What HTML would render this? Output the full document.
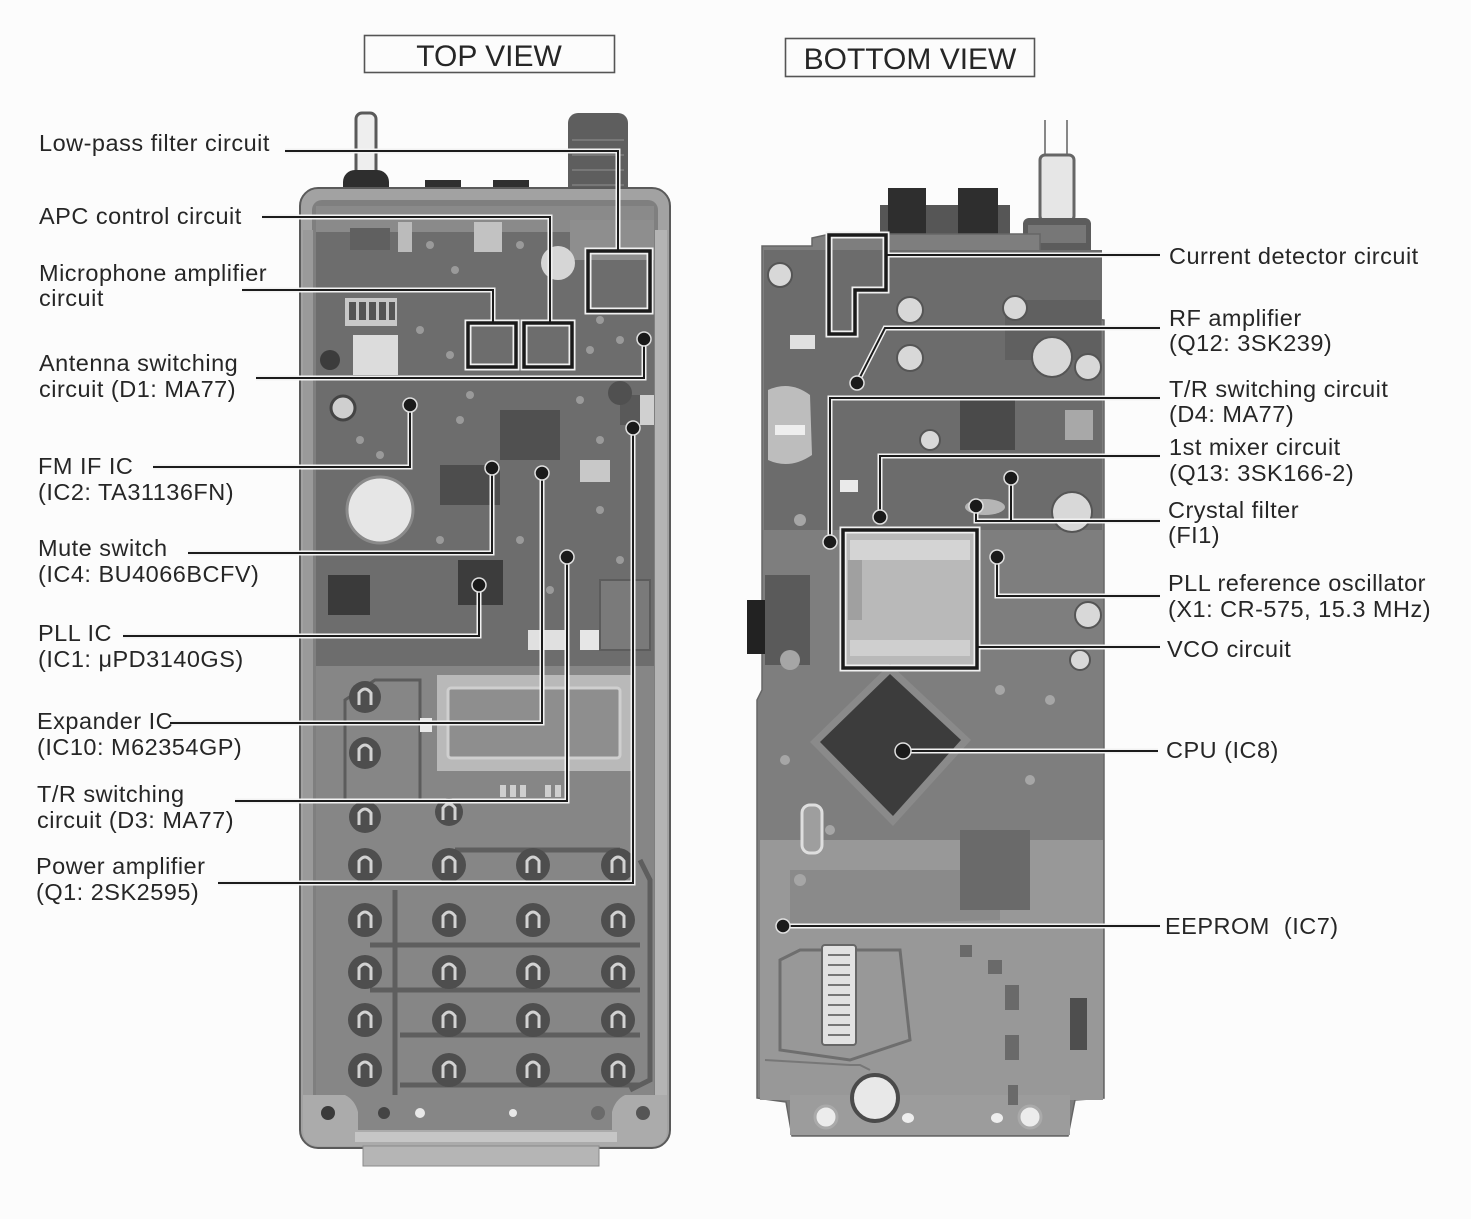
<!DOCTYPE html>
<html><head><meta charset="utf-8"><style>
html,body{margin:0;padding:0;background:#fcfcfc;}
svg{display:block;}
text{font-family:"Liberation Sans",Arial,sans-serif;fill:#262626;}
.lb{font-size:23.5px;letter-spacing:0.5px;}
.tt{font-size:30px;}
.halo{stroke:#f2f2f2;stroke-width:5;fill:none;}
.ln{stroke:#1c1c1c;stroke-width:2;fill:none;}
.dot{fill:#1a1a1a;stroke:#e0e0e0;stroke-width:1.5;}
</style></head><body>
<svg width="1471" height="1219" viewBox="0 0 1471 1219" xmlns="http://www.w3.org/2000/svg">
<rect width="1471" height="1219" fill="#fcfcfc"/>

<!-- TITLES -->
<rect x="364.5" y="35.5" width="250" height="37" fill="none" stroke="#555" stroke-width="1.6"/>
<text class="tt" x="489" y="66" text-anchor="middle">TOP VIEW</text>
<rect x="785.5" y="38.5" width="249" height="38" fill="none" stroke="#555" stroke-width="1.6"/>
<text class="tt" x="910" y="69" text-anchor="middle">BOTTOM VIEW</text>

<!-- ================= LEFT BOARD ================= -->
<!-- antenna rod & knob -->
<rect x="356" y="113" width="20" height="66" rx="6" fill="#eeeeee" stroke="#5a5a5a" stroke-width="3"/>
<rect x="343" y="170" width="46" height="30" rx="12" fill="#2e2e2e"/>
<!-- connector top right -->
<rect x="568" y="113" width="60" height="112" rx="10" fill="#5e5e5e"/>
<g stroke="#777" stroke-width="2">
<line x1="572" y1="140" x2="624" y2="140"/><line x1="572" y1="155" x2="624" y2="155"/>
<line x1="572" y1="170" x2="624" y2="170"/><line x1="572" y1="185" x2="624" y2="185"/>
<line x1="572" y1="200" x2="624" y2="200"/></g>
<rect x="580" y="205" width="36" height="30" fill="#4a4a4a"/>
<!-- top tabs -->
<rect x="425" y="180" width="36" height="20" fill="#2f2f2f"/>
<rect x="493" y="180" width="36" height="20" fill="#2f2f2f"/>
<!-- frame -->
<rect x="300" y="188" width="370" height="960" rx="18" fill="#a2a2a2" stroke="#5a5a5a" stroke-width="2"/>
<rect x="312" y="200" width="346" height="935" rx="10" fill="#7f7f7f"/>
<rect x="316" y="206" width="338" height="460" fill="#6d6d6d"/>
<rect x="316" y="206" width="338" height="26" fill="#8a8a8a"/>
<rect x="570" y="220" width="84" height="40" fill="#8e8e8e"/>
<!-- right metal edge lighter -->
<rect x="655" y="230" width="12" height="880" fill="#b4b4b4"/>
<rect x="303" y="230" width="10" height="880" fill="#9a9a9a"/>
<!-- upper components -->
<rect x="345" y="298" width="52" height="28" fill="#c8c8c8"/>
<g fill="#555"><rect x="349" y="302" width="7" height="18"/><rect x="359" y="302" width="7" height="18"/><rect x="369" y="302" width="7" height="18"/><rect x="379" y="302" width="7" height="18"/><rect x="389" y="302" width="6" height="18"/></g>
<rect x="353" y="335" width="45" height="40" fill="#dcdcdc"/>
<circle cx="330" cy="360" r="10" fill="#3c3c3c"/>
<circle cx="343" cy="408" r="12" fill="#cfcfcf" stroke="#444" stroke-width="3"/>
<rect x="474" y="222" width="28" height="30" fill="#c2c2c2"/>
<rect x="398" y="222" width="14" height="30" fill="#bbbbbb"/>
<circle cx="558" cy="263" r="17" fill="#d6d6d6"/>
<rect x="350" y="228" width="40" height="22" fill="#606060"/>
<rect x="500" y="410" width="60" height="50" fill="#505050"/>
<rect x="440" y="465" width="60" height="40" fill="#4d4d4d"/>
<rect x="580" y="460" width="30" height="22" fill="#c8c8c8"/>
<rect x="620" y="395" width="30" height="30" fill="#595959"/>
<circle cx="620" cy="393" r="12" fill="#505050"/>
<rect x="640" y="395" width="14" height="30" fill="#d0d0d0"/>
<g fill="#9a9a9a">
<circle cx="430" cy="245" r="4"/><circle cx="455" cy="270" r="4"/><circle cx="520" cy="245" r="4"/><circle cx="600" cy="320" r="4"/>
<circle cx="420" cy="330" r="4"/><circle cx="450" cy="355" r="4"/><circle cx="590" cy="350" r="4"/><circle cx="620" cy="340" r="4"/>
<circle cx="460" cy="420" r="4"/><circle cx="470" cy="395" r="4"/><circle cx="580" cy="400" r="4"/><circle cx="600" cy="440" r="4"/>
<circle cx="360" cy="440" r="4"/><circle cx="380" cy="455" r="4"/><circle cx="440" cy="540" r="4"/><circle cx="520" cy="540" r="4"/>
<circle cx="600" cy="510" r="4"/><circle cx="620" cy="560" r="4"/><circle cx="640" cy="600" r="4"/><circle cx="550" cy="590" r="4"/>
</g>
<!-- speaker -->
<circle cx="380" cy="510" r="33" fill="#e6e6e6" stroke="#8a8a8a" stroke-width="3"/>
<!-- ICs mid -->
<rect x="328" y="575" width="42" height="40" fill="#3a3a3a"/>
<rect x="458" y="560" width="45" height="45" fill="#3c3c3c"/>
<rect x="528" y="630" width="40" height="20" fill="#e0e0e0"/>
<rect x="580" y="630" width="30" height="20" fill="#e6e6e6"/>
<rect x="600" y="580" width="50" height="70" fill="#7a7a7a" stroke="#5c5c5c" stroke-width="2"/>
<!-- lower lighter area -->
<rect x="316" y="666" width="338" height="466" fill="#868686"/>
<!-- pcb outline trace on left -->
<path d="M345 700 L375 680 L420 680 L420 800 L345 800 Z" fill="none" stroke="#5c5c5c" stroke-width="3"/>
<!-- LCD window -->
<rect x="437" y="675" width="194" height="96" fill="#b9b9b9"/>
<rect x="448" y="688" width="172" height="70" rx="3" fill="#8e8e8e" stroke="#cfcfcf" stroke-width="3"/>
<rect x="420" y="718" width="12" height="14" fill="#e8e8e8"/>
<g fill="#cfcfcf"><rect x="500" y="785" width="6" height="12"/><rect x="510" y="785" width="6" height="12"/><rect x="520" y="785" width="6" height="12"/><rect x="545" y="785" width="6" height="12"/><rect x="555" y="785" width="6" height="12"/></g>
<!-- keypad traces -->
<g stroke="#5e5e5e" stroke-width="5" fill="none">
<line x1="395" y1="890" x2="395" y2="1095"/>
<line x1="370" y1="945" x2="640" y2="945"/>
<line x1="370" y1="990" x2="640" y2="990"/>
<line x1="400" y1="1035" x2="640" y2="1035"/>
<line x1="400" y1="1085" x2="640" y2="1085"/>
<path d="M640 860 L650 880 L650 1080 L630 1090"/>
<line x1="455" y1="850" x2="620" y2="850"/>
</g>
<!-- keypad buttons -->
<g fill="#4e4e4e">
<circle cx="365" cy="697" r="16"/><circle cx="365" cy="753" r="16"/><circle cx="365" cy="817" r="16"/>
<circle cx="449" cy="812" r="14"/>
<circle cx="365" cy="865" r="17"/><circle cx="449" cy="865" r="17"/><circle cx="533" cy="865" r="17"/><circle cx="618" cy="865" r="17"/>
<circle cx="365" cy="920" r="17"/><circle cx="449" cy="920" r="17"/><circle cx="533" cy="920" r="17"/><circle cx="618" cy="920" r="17"/>
<circle cx="365" cy="972" r="17"/><circle cx="449" cy="972" r="17"/><circle cx="533" cy="972" r="17"/><circle cx="618" cy="972" r="17"/>
<circle cx="365" cy="1020" r="17"/><circle cx="449" cy="1020" r="17"/><circle cx="533" cy="1020" r="17"/><circle cx="618" cy="1020" r="17"/>
<circle cx="365" cy="1070" r="17"/><circle cx="449" cy="1070" r="17"/><circle cx="533" cy="1070" r="17"/><circle cx="618" cy="1070" r="17"/>
</g>
<g fill="none" stroke="#d2d2d2" stroke-width="3">
<path d="M359 705 v-12 q6 -8 12 0 v12"/><path d="M359 761 v-12 q6 -8 12 0 v12"/><path d="M359 825 v-12 q6 -8 12 0 v12"/>
<path d="M443 820 v-12 q6 -8 12 0 v12"/>
<path d="M359 873 v-12 q6 -8 12 0 v12"/><path d="M443 873 v-12 q6 -8 12 0 v12"/><path d="M527 873 v-12 q6 -8 12 0 v12"/><path d="M612 873 v-12 q6 -8 12 0 v12"/>
<path d="M359 928 v-12 q6 -8 12 0 v12"/><path d="M443 928 v-12 q6 -8 12 0 v12"/><path d="M527 928 v-12 q6 -8 12 0 v12"/><path d="M612 928 v-12 q6 -8 12 0 v12"/>
<path d="M359 980 v-12 q6 -8 12 0 v12"/><path d="M443 980 v-12 q6 -8 12 0 v12"/><path d="M527 980 v-12 q6 -8 12 0 v12"/><path d="M612 980 v-12 q6 -8 12 0 v12"/>
<path d="M359 1028 v-12 q6 -8 12 0 v12"/><path d="M443 1028 v-12 q6 -8 12 0 v12"/><path d="M527 1028 v-12 q6 -8 12 0 v12"/><path d="M612 1028 v-12 q6 -8 12 0 v12"/>
<path d="M359 1078 v-12 q6 -8 12 0 v12"/><path d="M443 1078 v-12 q6 -8 12 0 v12"/><path d="M527 1078 v-12 q6 -8 12 0 v12"/><path d="M612 1078 v-12 q6 -8 12 0 v12"/>
</g>
<!-- bottom bracket -->
<path d="M303 1095 L345 1095 Q355 1100 358 1112 L358 1130 L612 1130 L612 1112 Q615 1100 625 1095 L667 1095 L667 1130 Q667 1146 650 1146 L320 1146 Q303 1146 303 1130 Z" fill="#ababab"/>
<rect x="355" y="1132" width="262" height="10" fill="#c6c6c6"/>
<circle cx="328" cy="1113" r="7" fill="#3a3a3a"/>
<circle cx="384" cy="1113" r="6" fill="#444"/>
<circle cx="420" cy="1113" r="5" fill="#e8e8e8"/>
<circle cx="513" cy="1113" r="4" fill="#e8e8e8"/>
<circle cx="598" cy="1113" r="7" fill="#6a6a6a"/>
<circle cx="643" cy="1113" r="7" fill="#555"/>
<rect x="363" y="1146" width="236" height="20" fill="#b5b5b5" stroke="#8a8a8a" stroke-width="1"/>

<!-- ================= RIGHT BOARD ================= -->
<!-- antenna connector rod -->
<line x1="1045" y1="120" x2="1045" y2="160" stroke="#888" stroke-width="2"/>
<line x1="1067" y1="120" x2="1067" y2="160" stroke="#888" stroke-width="2"/>
<rect x="1040" y="155" width="34" height="66" rx="5" fill="#e6e6e6" stroke="#666" stroke-width="3"/>
<rect x="1023" y="218" width="68" height="100" rx="6" fill="#5c5c5c"/>
<rect x="1028" y="225" width="58" height="18" fill="#777"/>
<!-- jacks -->
<rect x="880" y="205" width="130" height="90" fill="#565656"/>
<rect x="888" y="188" width="38" height="95" fill="#2e2e2e"/>
<rect x="958" y="188" width="40" height="95" fill="#2e2e2e"/>
<rect x="965" y="262" width="28" height="16" fill="#eeeeee"/>
<!-- board -->
<path d="M762 246 L812 246 L812 238 L830 234 L1040 234 L1040 300 L1088 300 L1088 318 L1104 320 L1104 1098 L1075 1100 L1068 1136 L792 1136 L786 1102 L757 1098 L757 700 L762 690 Z" fill="#7e7e7e" stroke="#666" stroke-width="1.5"/>
<rect x="764" y="250" width="338" height="280" fill="#6c6c6c"/>
<rect x="1005" y="300" width="96" height="60" fill="#606060"/>
<rect x="760" y="840" width="343" height="260" fill="#989898"/>
<rect x="790" y="1095" width="280" height="40" fill="#9c9c9c"/>
<!-- traces lower -->
<path d="M790 870 L1000 870 L1000 920 L790 925 Z" fill="#8a8a8a"/>
<path d="M780 960 L800 950 L900 950 L910 1040 L850 1060 L780 1050 Z" fill="none" stroke="#6e6e6e" stroke-width="3"/>
<path d="M765 1060 L850 1065 L860 1065 L870 1070 L870 1070" fill="none" stroke="#777" stroke-width="2"/>
<rect x="822" y="945" width="34" height="100" rx="3" fill="#e2e2e2" stroke="#666" stroke-width="2"/>
<g stroke="#777" stroke-width="2">
<line x1="828" y1="955" x2="850" y2="955"/><line x1="828" y1="965" x2="850" y2="965"/><line x1="828" y1="975" x2="850" y2="975"/>
<line x1="828" y1="985" x2="850" y2="985"/><line x1="828" y1="995" x2="850" y2="995"/><line x1="828" y1="1005" x2="850" y2="1005"/>
<line x1="828" y1="1015" x2="850" y2="1015"/><line x1="828" y1="1025" x2="850" y2="1025"/><line x1="828" y1="1035" x2="850" y2="1035"/></g>
<rect x="1070" y="998" width="17" height="52" fill="#4e4e4e"/>
<g fill="#6a6a6a">
<rect x="1005" y="985" width="14" height="25"/><rect x="1005" y="1035" width="14" height="25"/><rect x="1008" y="1085" width="10" height="20"/>
<rect x="988" y="960" width="14" height="14"/><rect x="960" y="945" width="12" height="12"/>
</g>
<rect x="960" y="830" width="70" height="80" fill="#6a6a6a"/>
<!-- bottom cap & holes -->
<circle cx="875" cy="1098" r="23" fill="#e8e8e8" stroke="#4a4a4a" stroke-width="4"/>
<circle cx="826" cy="1117" r="11" fill="#ececec" stroke="#aaa" stroke-width="3"/>
<circle cx="1030" cy="1117" r="11" fill="#ececec" stroke="#aaa" stroke-width="3"/>
<ellipse cx="908" cy="1118" rx="6" ry="5" fill="#eee"/>
<ellipse cx="997" cy="1118" rx="6" ry="5" fill="#eee"/>
<!-- left silver part -->
<path d="M768 390 Q790 380 810 395 L812 455 Q790 470 768 460 Z" fill="#bdbdbd"/>
<rect x="775" y="425" width="30" height="10" fill="#eeeeee"/>
<!-- left black connector -->
<rect x="747" y="600" width="24" height="54" fill="#222"/>
<rect x="765" y="575" width="45" height="90" fill="#5a5a5a"/>
<!-- caps upper -->
<g fill="#d8d8d8" stroke="#555" stroke-width="2">
<circle cx="910" cy="310" r="13"/><circle cx="910" cy="358" r="13"/><circle cx="1015" cy="308" r="12"/>
<circle cx="1052" cy="357" r="20"/><circle cx="1088" cy="367" r="13"/><circle cx="930" cy="440" r="10"/>
<circle cx="1072" cy="512" r="20"/><circle cx="1088" cy="615" r="13"/><circle cx="1080" cy="660" r="10"/>
<circle cx="780" cy="275" r="12"/><circle cx="798" cy="1000" r="0"/>
</g>
<rect x="960" y="400" width="55" height="50" fill="#4a4a4a"/>
<rect x="1065" y="410" width="28" height="30" fill="#a8a8a8"/>
<rect x="840" y="480" width="18" height="12" fill="#eaeaea"/>
<rect x="790" y="335" width="25" height="14" fill="#e0e0e0"/>
<ellipse cx="985" cy="507" rx="20" ry="8" fill="#b5b5b5"/>
<g fill="#a6a6a6">
<circle cx="800" cy="520" r="6"/><circle cx="790" cy="660" r="10"/><circle cx="785" cy="760" r="5"/><circle cx="1030" cy="780" r="5"/>
<circle cx="800" cy="880" r="6"/><circle cx="830" cy="830" r="5"/><circle cx="1000" cy="690" r="5"/><circle cx="1050" cy="700" r="5"/>
</g>
<!-- VCO shield -->
<rect x="843" y="530" width="134" height="138" fill="#b9b9b9"/>
<rect x="850" y="540" width="120" height="20" fill="#d4d4d4"/>
<rect x="850" y="640" width="120" height="16" fill="#cfcfcf"/>
<rect x="848" y="560" width="14" height="60" fill="#a0a0a0"/>
<!-- CPU -->
<polygon points="890,664 971,740 893,826 810,742" fill="#8a8a8a"/>
<polygon points="890,674 961,740 893,816 820,742" fill="#3c3c3c"/>
<!-- crystal -->
<rect x="802" y="805" width="20" height="48" rx="8" fill="#9e9e9e" stroke="#dedede" stroke-width="3"/>

<!-- ================= CONNECTORS (LEFT) ================= -->
<g class="halo">
<polyline points="285,151 618,151 618,250"/>
<polyline points="262,217 550,217 550,322"/>
<polyline points="242,290 493,290 493,322"/>
<polyline points="256,378 644,378 644,339"/>
<polyline points="153,467 410,467 410,405"/>
<polyline points="188,553 492,553 492,468"/>
<polyline points="123,636 479,636 479,585"/>
<polyline points="170,723 542,723 542,473"/>
<polyline points="235,801 567,801 567,557"/>
<polyline points="218,883 633,883 633,428"/>
</g>
<g fill="none" stroke="#f0f0f0" stroke-width="7">
<rect x="588" y="251" width="62" height="60"/>
<rect x="524" y="323" width="48" height="44"/>
<rect x="468" y="323" width="48" height="44"/>
</g>
<g fill="none" stroke="#1a1a1a" stroke-width="3.5">
<rect x="588" y="251" width="62" height="60"/>
<rect x="524" y="323" width="48" height="44"/>
<rect x="468" y="323" width="48" height="44"/>
</g>
<g class="ln">
<polyline points="285,151 618,151 618,250"/>
<polyline points="262,217 550,217 550,322"/>
<polyline points="242,290 493,290 493,322"/>
<polyline points="256,378 644,378 644,339"/>
<polyline points="153,467 410,467 410,405"/>
<polyline points="188,553 492,553 492,468"/>
<polyline points="123,636 479,636 479,585"/>
<polyline points="170,723 542,723 542,473"/>
<polyline points="235,801 567,801 567,557"/>
<polyline points="218,883 633,883 633,428"/>
</g>
<g class="dot">
<circle cx="644" cy="339" r="7"/>
<circle cx="410" cy="405" r="7"/>
<circle cx="492" cy="468" r="7"/>
<circle cx="479" cy="585" r="7"/>
<circle cx="542" cy="473" r="7"/>
<circle cx="567" cy="557" r="7"/>
<circle cx="633" cy="428" r="7"/>
</g>

<!-- ================= CONNECTORS (RIGHT) ================= -->
<g class="halo">
<polyline points="1160,255 887,255"/>
<polyline points="1160,328 885,328 857,383"/>
<polyline points="1160,398 830,398 830,542"/>
<polyline points="1160,456 880,456 880,517"/>
<polyline points="1160,521 976,521 976,506"/>
<polyline points="1011,521 1011,478"/>
<polyline points="1160,596 997,596 997,557"/>
<polyline points="1160,647 978,647"/>
<polyline points="1158,751 903,751"/>
<polyline points="1160,926 783,926"/>
</g>
<path d="M829 235 L886 235 L886 290 L855 290 L855 334 L829 334 Z" fill="none" stroke="#f0f0f0" stroke-width="7"/>
<path d="M829 235 L886 235 L886 290 L855 290 L855 334 L829 334 Z" fill="none" stroke="#1a1a1a" stroke-width="3.5"/>
<rect x="843" y="530" width="134" height="138" fill="none" stroke="#f0f0f0" stroke-width="7"/>
<rect x="843" y="530" width="134" height="138" fill="none" stroke="#1a1a1a" stroke-width="3.5"/>
<g class="ln">
<polyline points="1160,255 887,255"/>
<polyline points="1160,328 885,328 857,383"/>
<polyline points="1160,398 830,398 830,542"/>
<polyline points="1160,456 880,456 880,517"/>
<polyline points="1160,521 976,521 976,506"/>
<polyline points="1011,521 1011,478"/>
<polyline points="1160,596 997,596 997,557"/>
<polyline points="1160,647 978,647"/>
<polyline points="1158,751 903,751"/>
<polyline points="1160,926 783,926"/>
</g>
<g class="dot">
<circle cx="857" cy="383" r="7"/>
<circle cx="830" cy="542" r="7"/>
<circle cx="880" cy="517" r="7"/>
<circle cx="976" cy="506" r="7"/>
<circle cx="1011" cy="478" r="7"/>
<circle cx="997" cy="557" r="7"/>
<circle cx="903" cy="751" r="8"/>
<circle cx="783" cy="926" r="7"/>
</g>

<!-- ================= LABELS LEFT ================= -->
<text class="lb" x="39" y="151">Low-pass filter circuit</text>
<text class="lb" x="39" y="224">APC control circuit</text>
<text class="lb" x="39" y="281">Microphone amplifier</text>
<text class="lb" x="39" y="306">circuit</text>
<text class="lb" x="39" y="371">Antenna switching</text>
<text class="lb" x="39" y="397">circuit (D1: MA77)</text>
<text class="lb" x="38" y="474">FM IF IC</text>
<text class="lb" x="38" y="500">(IC2: TA31136FN)</text>
<text class="lb" x="38" y="556">Mute switch</text>
<text class="lb" x="38" y="582">(IC4: BU4066BCFV)</text>
<text class="lb" x="38" y="641">PLL IC</text>
<text class="lb" x="38" y="667">(IC1: μPD3140GS)</text>
<text class="lb" x="37" y="729">Expander IC</text>
<text class="lb" x="37" y="755">(IC10: M62354GP)</text>
<text class="lb" x="37" y="802">T/R switching</text>
<text class="lb" x="37" y="828">circuit (D3: MA77)</text>
<text class="lb" x="36" y="874">Power amplifier</text>
<text class="lb" x="36" y="900">(Q1: 2SK2595)</text>

<!-- ================= LABELS RIGHT ================= -->
<text class="lb" x="1169" y="264">Current detector circuit</text>
<text class="lb" x="1169" y="326">RF amplifier</text>
<text class="lb" x="1169" y="351">(Q12: 3SK239)</text>
<text class="lb" x="1169" y="397">T/R switching circuit</text>
<text class="lb" x="1169" y="422">(D4: MA77)</text>
<text class="lb" x="1169" y="455">1st mixer circuit</text>
<text class="lb" x="1169" y="481">(Q13: 3SK166-2)</text>
<text class="lb" x="1168" y="518">Crystal filter</text>
<text class="lb" x="1168" y="543">(FI1)</text>
<text class="lb" x="1168" y="591">PLL reference oscillator</text>
<text class="lb" x="1168" y="617">(X1: CR-575, 15.3 MHz)</text>
<text class="lb" x="1167" y="657">VCO circuit</text>
<text class="lb" x="1166" y="758">CPU (IC8)</text>
<text class="lb" x="1165" y="934" xml:space="preserve">EEPROM  (IC7)</text>
</svg>
</body></html>
